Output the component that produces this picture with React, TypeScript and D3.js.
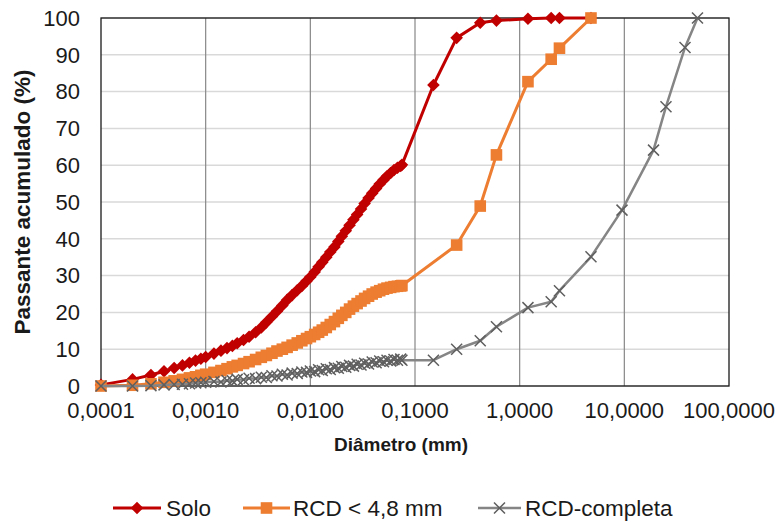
import React from 'react';
import * as d3 from 'd3';

// fine fraction diameters (mm), shared by the three curves
const fineDiam = [0.0001, 0.0002, 0.0003, 0.0004, 0.0005, 0.0006, 0.0007, 0.0008, 0.0009, 0.0010,
    0.0012, 0.0014, 0.0016, 0.0018, 0.0020, 0.0023, 0.0026, 0.0030, 0.0034, 0.0038,
    0.0043, 0.0048, 0.0054, 0.0060, 0.0067, 0.0075, 0.0083, 0.0092, 0.0100, 0.0110,
    0.0120, 0.0130, 0.0142, 0.0155, 0.0170, 0.0185, 0.0200, 0.0218, 0.0237, 0.0258,
    0.0280, 0.0305, 0.0330, 0.0360, 0.0390, 0.0425, 0.0460, 0.0500, 0.0540, 0.0585,
    0.0630, 0.0680, 0.0730, 0.0750];

const soloFine = [0.3, 1.8, 3.0, 4.0, 4.9, 5.6, 6.3, 6.9, 7.4, 7.9,
    8.8, 9.6, 10.3, 10.9, 11.6, 12.5, 13.4, 14.6, 15.9, 17.3,
    18.9, 20.3, 21.9, 23.4, 24.7, 26.0, 27.2, 28.5, 29.6, 31.0,
    32.4, 33.6, 35.0, 36.4, 37.8, 39.3, 40.7, 42.2, 43.7, 45.2,
    46.6, 48.1, 49.6, 51.1, 52.4, 53.7, 54.9, 56.0, 57.0, 57.9,
    58.7, 59.3, 59.8, 60.1];

const rcdFine = [0.0, 0.2, 0.6, 1.0, 1.4, 1.8, 2.2, 2.5, 2.9, 3.2,
    3.7, 4.2, 4.7, 5.2, 5.6, 6.1, 6.6, 7.2, 7.8, 8.3,
    8.9, 9.5, 10.0, 10.5, 11.1, 11.7, 12.3, 12.9, 13.4, 14.0,
    14.6, 15.2, 15.9, 16.7, 17.5, 18.4, 19.2, 20.0, 20.9, 21.7,
    22.4, 23.1, 23.8, 24.4, 25.0, 25.5, 25.9, 26.3, 26.6, 26.8,
    27.0, 27.1, 27.2, 27.3];

const compFine = [0.0, 0.0, 0.1, 0.3, 0.4, 0.5, 0.6, 0.8, 0.9, 1.0,
    1.2, 1.1, 1.5, 1.4, 1.8, 1.7, 2.1, 2.0, 2.4, 2.3,
    2.8, 2.7, 3.2, 3.0, 3.5, 3.4, 3.8, 3.7, 4.1, 3.9,
    4.4, 4.2, 4.7, 4.5, 5.0, 4.8, 5.3, 5.1, 5.6, 5.4,
    5.9, 5.7, 6.2, 6.0, 6.5, 6.3, 6.8, 6.6, 7.0, 6.8,
    7.2, 7.0, 7.3, 7.0];

// sieve fractions
const soloSieve = [0.15, 0.25, 0.42, 0.6, 1.2, 2.0, 2.4, 4.8];
const soloSieveVal = [81.8, 94.6, 98.7, 99.3, 99.8, 100, 100, 100];

const rcdSieve = [0.25, 0.42, 0.6, 1.2, 2.0, 2.4, 4.8];
const rcdSieveVal = [38.3, 48.9, 62.8, 82.7, 88.8, 91.8, 100];

const compSieve = [0.15, 0.25, 0.42, 0.6, 1.2, 2.0, 2.4, 4.8, 9.5, 19, 25, 38, 50];
const compSieveVal = [7.0, 10.0, 12.3, 16.1, 21.3, 22.9, 25.9, 35.1, 47.8, 64.1, 75.9, 92.0, 100];

const xTicks = [0.0001, 0.001, 0.01, 0.1, 1, 10, 100];
const xTickLabels = ['0,0001', '0,0010', '0,0100', '0,1000', '1,0000', '10,0000', '100,0000'];
const yTicks = [0, 10, 20, 30, 40, 50, 60, 70, 80, 90, 100];

const seriesNames = ['Solo', 'RCD < 4,8 mm', 'RCD-completa'];

const W = 782, H = 523;
const plot = { left: 101, right: 729, top: 18, bottom: 386 };
const FONT = '"Liberation Sans", Arial, sans-serif';

const zip = (xs: number[], ys: number[]) => xs.map((x, i) => ({ d: x, p: ys[i] }));

const Marker = ({ kind, x, y }: { kind: string, x: number, y: number }) => {
    if (kind === 'diamond') {
        const r = 6.3;
        return <path d={`M${x},${y - r}L${x + r},${y}L${x},${y + r}L${x - r},${y}Z`} fill="#C00000" />;
    }
    if (kind === 'square') {
        const s = 5.8;
        return <rect x={x - s} y={y - s} width={2 * s} height={2 * s} fill="#ED7D31" />;
    }
    const r = 5.5;
    return <path d={`M${x - r},${y - r}L${x + r},${y + r}M${x - r},${y + r}L${x + r},${y - r}`}
        stroke="#5F5F5F" strokeWidth={1.5} fill="none" />;
};

export default function App() {
    const xScale = d3.scaleLog().domain([0.0001, 100]).range([plot.left, plot.right]);
    const yScale = d3.scaleLinear().domain([0, 100]).range([plot.bottom, plot.top]);
    const line = d3.line<{ d: number, p: number }>()
        .x(d => xScale(d.d))
        .y(d => yScale(d.p));

    const series = [
        { name: seriesNames[0], data: zip(fineDiam, soloFine).concat(zip(soloSieve, soloSieveVal)), color: '#C00000', width: 3, kind: 'diamond' },
        { name: seriesNames[1], data: zip(fineDiam, rcdFine).concat(zip(rcdSieve, rcdSieveVal)), color: '#ED7D31', width: 3, kind: 'square' },
        { name: seriesNames[2], data: zip(fineDiam, compFine).concat(zip(compSieve, compSieveVal)), color: '#858585', width: 2.5, kind: 'x' },
    ];

    const legendPos = [
        { x0: 113, x1: 161, tx: 166 },
        { x0: 243, x1: 290, tx: 293 },
        { x0: 478, x1: 521, tx: 525 },
    ];
    const legendY = 508;

    return (
        <svg width={W} height={H} style={{ position: 'absolute', left: 0, top: 0 }} fontFamily={FONT}>
            <rect width={W} height={H} fill="#fff" />
            {/* horizontal gridlines */}
            {yTicks.map(t => (
                <line key={'hy' + t} x1={plot.left} x2={plot.right} y1={yScale(t)} y2={yScale(t)} stroke="#D9D9D9" strokeWidth={1.5} />
            ))}
            {/* vertical gridlines */}
            {xTicks.slice(1, -1).map(t => (
                <line key={'vx' + t} x1={xScale(t)} x2={xScale(t)} y1={plot.top} y2={plot.bottom} stroke="#878787" strokeWidth={1.2} />
            ))}
            <rect x={plot.left} y={plot.top} width={plot.right - plot.left} height={plot.bottom - plot.top}
                fill="none" stroke="#1a1a1a" strokeWidth={1.3} />

            {series.map(s => (
                <g key={s.name}>
                    <path d={line(s.data) || ''} fill="none" stroke={s.color} strokeWidth={s.width} strokeLinejoin="round" />
                    {s.data.map((d, i) => <Marker key={i} kind={s.kind} x={xScale(d.d)} y={yScale(d.p)} />)}
                </g>
            ))}

            {/* y tick labels */}
            {yTicks.map(t => (
                <text key={'yl' + t} x={80} y={yScale(t)} dy="0.35em" textAnchor="end" fontSize={22} fill="#1a1a1a">{t}</text>
            ))}
            {/* x tick labels */}
            {xTicks.map((t, i) => (
                <text key={'xl' + t} x={xScale(t)} y={418} textAnchor="middle" fontSize={22} fill="#1a1a1a">{xTickLabels[i]}</text>
            ))}
            <text x={401} y={451} textAnchor="middle" fontSize={19} fontWeight="bold" fill="#1a1a1a">Diâmetro (mm)</text>
            <text transform="translate(30,202) rotate(-90)" textAnchor="middle"
                fontSize={22.5} fontWeight="bold" fill="#1a1a1a">Passante acumulado (%)</text>

            {/* legend */}
            {series.map((s, i) => (
                <g key={'lg' + i}>
                    <line x1={legendPos[i].x0} x2={legendPos[i].x1} y1={legendY} y2={legendY} stroke={s.color} strokeWidth={s.width} />
                    <Marker kind={s.kind} x={(legendPos[i].x0 + legendPos[i].x1) / 2} y={legendY} />
                    <text x={legendPos[i].tx} y={legendY} dy="0.35em" fontSize={22.5} fill="#1a1a1a">{s.name}</text>
                </g>
            ))}
        </svg>
    );
}
